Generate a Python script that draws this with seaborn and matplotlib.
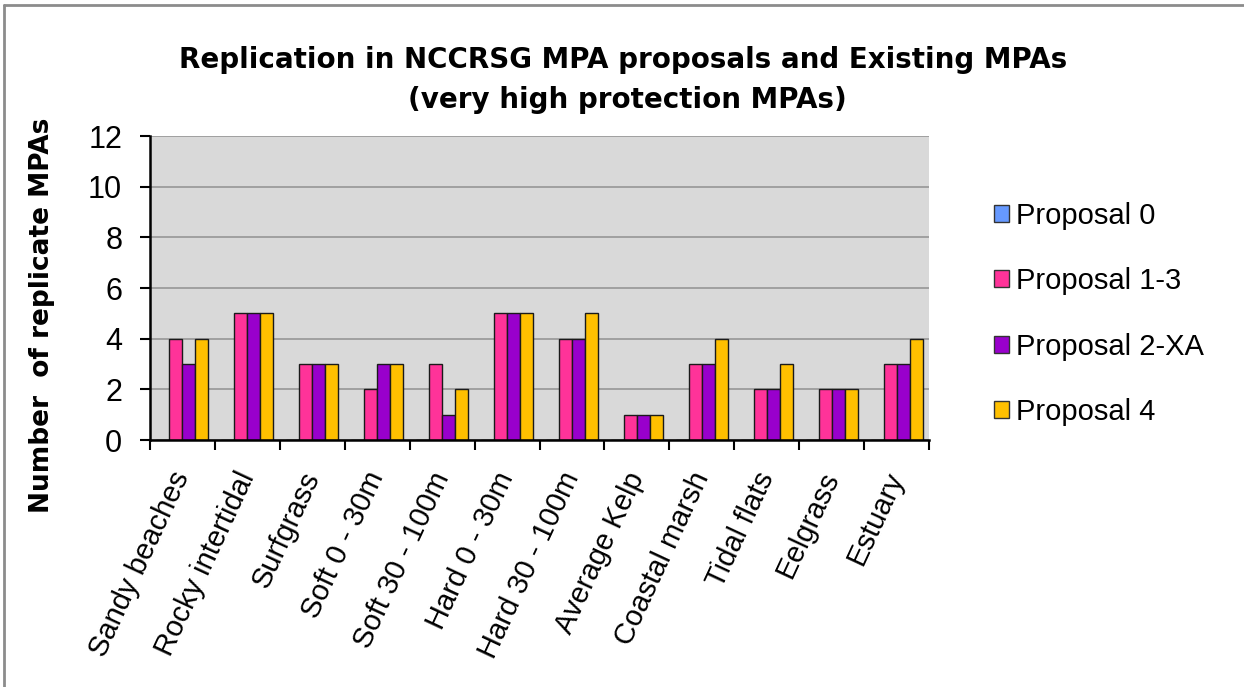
import matplotlib
matplotlib.use("Agg")
import matplotlib.pyplot as plt
import seaborn as sns
import pandas as pd
from matplotlib.lines import Line2D
from matplotlib.patches import Patch

categories = ["Sandy beaches", "Rocky intertidal", "Surfgrass", "Soft 0 - 30m",
              "Soft 30 - 100m", "Hard 0 - 30m", "Hard 30 - 100m", "Average Kelp",
              "Coastal marsh", "Tidal flats", "Eelgrass", "Estuary"]
series_names = ["Proposal 0", "Proposal 1-3", "Proposal 2-XA", "Proposal 4"]
proposal_0 = [0, 0, 0, 0, 0, 0, 0, 0, 0, 0, 0, 0]
proposal_1_3 = [4, 5, 3, 2, 3, 5, 4, 1, 3, 2, 2, 3]
proposal_2_xa = [3, 5, 3, 3, 1, 5, 4, 1, 3, 2, 2, 3]
proposal_4 = [4, 5, 3, 3, 2, 5, 5, 1, 4, 3, 2, 4]
y_ticks = [0, 2, 4, 6, 8, 10, 12]
colors = ["#6699FF", "#FF3399", "#9900CC", "#FFC000"]

rows = []
for name, vals in zip(series_names, [proposal_0, proposal_1_3, proposal_2_xa, proposal_4]):
    for c, v in zip(categories, vals):
        rows.append({"Habitat": c, "Series": name, "Value": v})
df = pd.DataFrame(rows)

sns.set_theme(style="white")
plt.rcParams["font.family"] = ["Liberation Sans", "DejaVu Sans"]
plt.rcParams["text.color"] = "black"
plt.rcParams["axes.labelcolor"] = "black"
plt.rcParams["xtick.color"] = "black"
plt.rcParams["ytick.color"] = "black"
bold_family = ["DejaVu Sans"]

fig = plt.figure(figsize=(12.44, 6.87), dpi=100)
ax = fig.add_axes([150 / 1244, 1 - 440 / 687, 779 / 1244, 304 / 687])

sns.barplot(data=df, x="Habitat", y="Value", hue="Series", order=categories,
            hue_order=series_names, palette=colors, width=0.8,
            edgecolor="#1a1a1a", linewidth=1.0, saturation=1, ax=ax, legend=False)

ax.set_facecolor("#D9D9D9")
ax.set_ylim(0, 12)
ax.set_xlim(-0.5, len(categories) - 0.5)
ax.set_yticks(y_ticks)
ax.set_yticklabels([str(t) for t in y_ticks], fontsize=22, color="black")
ax.yaxis.grid(True, color="#969696", linewidth=1.2)
ax.set_axisbelow(True)

ax.set_xticks(range(len(categories)))
ax.set_xticklabels(categories, rotation=65, ha="right", va="center",
                   rotation_mode="anchor", fontsize=21, color="black")
ax.tick_params(axis="x", which="major", length=0, pad=24)
ax.set_xticks([i - 0.5 for i in range(len(categories) + 1)], minor=True)
ax.tick_params(axis="x", which="minor", length=7, width=1.5, color="black",
               direction="out", bottom=True)
ax.tick_params(axis="y", length=7, width=1.5, color="black", direction="out",
               left=True, pad=13)

for s in ["top", "right"]:
    ax.spines[s].set_visible(False)
for s in ["left", "bottom"]:
    ax.spines[s].set_color("black")
    ax.spines[s].set_linewidth(1.8)

ax.set_xlabel("")
ax.set_ylabel("Number  of replicate MPAs", fontsize=19, fontweight="bold",
              family=bold_family, color="black")
ax.yaxis.set_label_coords(-0.122, 0.41)

fig.text(623 / 1244, 1 - 68 / 687,
         "Replication in NCCRSG MPA proposals and Existing MPAs",
         ha="center", va="baseline", fontsize=20, fontweight="bold",
         family=bold_family, color="black")
fig.text(627 / 1244, 1 - 108 / 687, "(very high protection MPAs)",
         ha="center", va="baseline", fontsize=20, fontweight="bold",
         family=bold_family, color="black")

handles = [Patch(facecolor=c, edgecolor="#333333", linewidth=1.0, label=n)
           for c, n in zip(colors, series_names)]
leg = fig.legend(handles=handles, loc="center left",
                 bbox_to_anchor=(994 / 1244, 1 - 314 / 687), frameon=False,
                 fontsize=21, handlelength=0.52, handleheight=0.52,
                 handletextpad=0.24, labelspacing=1.28, borderaxespad=0,
                 borderpad=0, labelcolor="black")

fig.add_artist(Line2D([4 / 1244, 4 / 1244], [0, 1 - 5 / 687], color="#8c8c8c",
                      linewidth=2, transform=fig.transFigure))
fig.add_artist(Line2D([4 / 1244, 1], [1 - 5 / 687, 1 - 5 / 687], color="#8c8c8c",
                      linewidth=2, transform=fig.transFigure))

fig.savefig("out.png", dpi=100, facecolor="white")
